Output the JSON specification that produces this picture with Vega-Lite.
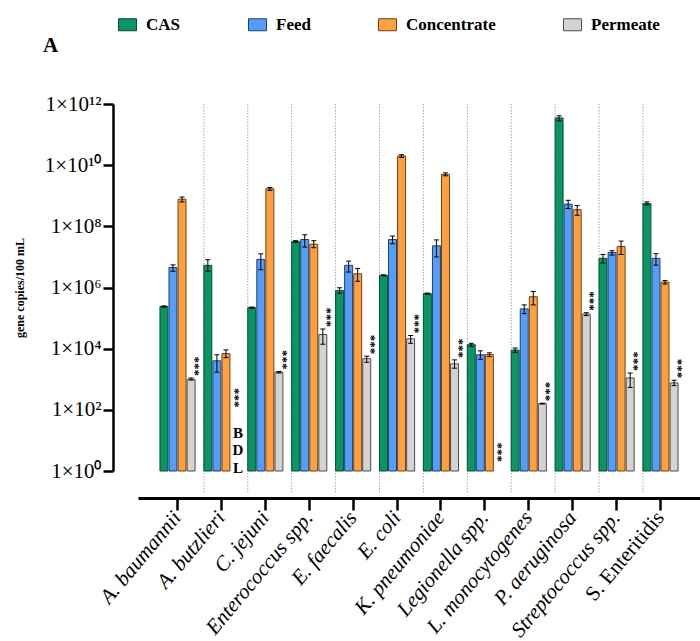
{
  "$schema": "https://vega.github.io/schema/vega-lite/v6.json",
  "autosize": {"type": "none"},
  "width": 562,
  "height": 367,
  "padding": {"left": 138, "top": 104, "right": 0, "bottom": 170},
  "background": "white",
  "title": {"text": "A", "anchor": "start", "frame": "group", "dx": -95, "offset": 0, "dy": 40, "font": "Liberation Serif", "fontSize": 21, "fontWeight": "bold", "color": "black"},
  "config": {
    "view": {"stroke": null},
    "axis": {"grid": false},
    "legend": {"orient": "none", "legendX": -19, "legendY": -88, "direction": "horizontal", "columns": 4, "padding": 0, "columnPadding": 65, "labelFont": "Liberation Serif", "labelFontWeight": "bold", "labelFontSize": 17, "labelColor": "black", "labelOffset": 10, "symbolType": "M-1.5,-1H1.5V1H-1.5Z", "symbolSize": 144, "symbolStrokeWidth": 1, "symbolOpacity": 1, "title": null}
  },
  "data": {"values": [
    {"species": "A. baumannii", "sample": "CAS", "value": 240000, "low": 230000, "high": 250000},
    {"species": "A. baumannii", "sample": "Feed", "value": 4500000, "low": 3400000, "high": 5500000},
    {"species": "A. baumannii", "sample": "Concentrate", "value": 770000000, "low": 630000000, "high": 910000000},
    {"species": "A. baumannii", "sample": "Permeate", "value": 1000, "low": 940, "high": 1100, "sig": "***"},
    {"species": "A. butzlieri", "sample": "CAS", "value": 5300000, "low": 3400000, "high": 8100000},
    {"species": "A. butzlieri", "sample": "Feed", "value": 4000, "low": 1700, "high": 6300},
    {"species": "A. butzlieri", "sample": "Concentrate", "value": 6900, "low": 5100, "high": 9100},
    {"species": "A. butzlieri", "sample": "Permeate", "value": null, "low": null, "high": null, "sig": "***", "note": "B\nD\nL"},
    {"species": "C. jejuni", "sample": "CAS", "value": 220000, "low": 210000, "high": 230000},
    {"species": "C. jejuni", "sample": "Feed", "value": 8300000, "low": 3800000, "high": 12600000},
    {"species": "C. jejuni", "sample": "Concentrate", "value": 1700000000, "low": 1500000000, "high": 1860000000},
    {"species": "C. jejuni", "sample": "Permeate", "value": 1700, "low": 1600, "high": 1800, "sig": "***"},
    {"species": "Enterococcus spp.", "sample": "CAS", "value": 32000000, "low": 30000000, "high": 34000000},
    {"species": "Enterococcus spp.", "sample": "Feed", "value": 37000000, "low": 21000000, "high": 53000000},
    {"species": "Enterococcus spp.", "sample": "Concentrate", "value": 26000000, "low": 20000000, "high": 34000000},
    {"species": "Enterococcus spp.", "sample": "Permeate", "value": 29000, "low": 14000, "high": 44000, "sig": "***"},
    {"species": "E. faecalis", "sample": "CAS", "value": 800000, "low": 650000, "high": 980000},
    {"species": "E. faecalis", "sample": "Feed", "value": 5300000, "low": 3200000, "high": 7300000},
    {"species": "E. faecalis", "sample": "Concentrate", "value": 2800000, "low": 1600000, "high": 4200000},
    {"species": "E. faecalis", "sample": "Permeate", "value": 4700, "low": 3600, "high": 5700, "sig": "***"},
    {"species": "E. coli", "sample": "CAS", "value": 2500000, "low": 2400000, "high": 2600000},
    {"species": "E. coli", "sample": "Feed", "value": 37000000, "low": 27000000, "high": 48000000},
    {"species": "E. coli", "sample": "Concentrate", "value": 20000000000, "low": 18000000000, "high": 22000000000},
    {"species": "E. coli", "sample": "Permeate", "value": 21000, "low": 15000, "high": 27000, "sig": "***"},
    {"species": "K. pneumoniae", "sample": "CAS", "value": 630000, "low": 600000, "high": 660000},
    {"species": "K. pneumoniae", "sample": "Feed", "value": 23000000, "low": 10000000, "high": 36000000},
    {"species": "K. pneumoniae", "sample": "Concentrate", "value": 5000000000, "low": 4500000000, "high": 5600000000},
    {"species": "K. pneumoniae", "sample": "Permeate", "value": 3200, "low": 2300, "high": 4300, "sig": "***"},
    {"species": "Legionella spp.", "sample": "CAS", "value": 13500, "low": 12000, "high": 15000},
    {"species": "Legionella spp.", "sample": "Feed", "value": 6300, "low": 4500, "high": 8500},
    {"species": "Legionella spp.", "sample": "Concentrate", "value": 6400, "low": 5500, "high": 7300},
    {"species": "Legionella spp.", "sample": "Permeate", "value": null, "low": null, "high": null, "sig": "***"},
    {"species": "L. monocytogenes", "sample": "CAS", "value": 9000, "low": 7600, "high": 10500},
    {"species": "L. monocytogenes", "sample": "Feed", "value": 200000, "low": 140000, "high": 270000},
    {"species": "L. monocytogenes", "sample": "Concentrate", "value": 500000, "low": 270000, "high": 740000},
    {"species": "L. monocytogenes", "sample": "Permeate", "value": 160, "low": 155, "high": 165, "sig": "***"},
    {"species": "P. aeruginosa", "sample": "CAS", "value": 350000000000, "low": 280000000000, "high": 410000000000},
    {"species": "P. aeruginosa", "sample": "Feed", "value": 530000000, "low": 380000000, "high": 710000000},
    {"species": "P. aeruginosa", "sample": "Concentrate", "value": 350000000, "low": 230000000, "high": 480000000},
    {"species": "P. aeruginosa", "sample": "Permeate", "value": 135000, "low": 120000, "high": 150000, "sig": "***"},
    {"species": "Streptococcus spp.", "sample": "CAS", "value": 9000000, "low": 6300000, "high": 12000000},
    {"species": "Streptococcus spp.", "sample": "Feed", "value": 14000000, "low": 11500000, "high": 16000000},
    {"species": "Streptococcus spp.", "sample": "Concentrate", "value": 22000000, "low": 12000000, "high": 33000000},
    {"species": "Streptococcus spp.", "sample": "Permeate", "value": 1100, "low": 540, "high": 1600, "sig": "***"},
    {"species": "S. Enteritidis", "sample": "CAS", "value": 560000000, "low": 500000000, "high": 630000000},
    {"species": "S. Enteritidis", "sample": "Feed", "value": 9000000, "low": 5400000, "high": 12700000},
    {"species": "S. Enteritidis", "sample": "Concentrate", "value": 1500000, "low": 1300000, "high": 1700000},
    {"species": "S. Enteritidis", "sample": "Permeate", "value": 760, "low": 620, "high": 930, "sig": "***"}
  ]},
  "encoding": {
    "x": {
      "field": "species", "type": "nominal",
      "sort": ["A. baumannii", "A. butzlieri", "C. jejuni", "Enterococcus spp.", "E. faecalis", "E. coli", "K. pneumoniae", "Legionella spp.", "L. monocytogenes", "P. aeruginosa", "Streptococcus spp.", "S. Enteritidis"],
      "scale": {"paddingInner": 0.2, "paddingOuter": 0.5},
      "axis": {"title": null, "offset": 27, "domainColor": "black", "domainWidth": 3, "tickColor": "black", "tickWidth": 2.5, "tickSize": 12, "labelAngle": -50, "labelAlign": "right", "labelBaseline": "middle", "labelFont": "Liberation Serif", "labelFontSize": 21, "labelColor": "black", "labelPadding": 4, "labelOverlap": false, "labelBound": false,
        "labelFontStyle": {"condition": {"test": "datum.value == 'S. Enteritidis'", "value": "normal"}, "value": "italic"}}
    },
    "xOffset": {"field": "sample", "type": "nominal", "sort": ["CAS", "Feed", "Concentrate", "Permeate"], "scale": {"paddingInner": 0.12, "paddingOuter": 0}}
  },
  "layer": [
    {
      "transform": [{"filter": "datum.sample == 'CAS' && datum.species != 'A. baumannii'"}],
      "mark": {"type": "rule", "color": "#a8a8a8", "strokeWidth": 1, "strokeDash": [1.5, 1.5]},
      "encoding": {
        "x": {"field": "species", "type": "nominal", "sort": ["A. baumannii", "A. butzlieri", "C. jejuni", "Enterococcus spp.", "E. faecalis", "E. coli", "K. pneumoniae", "Legionella spp.", "L. monocytogenes", "P. aeruginosa", "Streptococcus spp.", "S. Enteritidis"], "bandPosition": 0},
        "xOffset": null,
        "y": {"datum": 1000000000000},
        "y2": {"datum": 0.2}
      }
    },
    {
      "transform": [{"filter": "isValid(datum.value)"}],
      "mark": {"type": "bar", "strokeWidth": 1, "opacity": 1},
      "encoding": {
        "y": {"field": "value", "type": "quantitative",
          "scale": {"type": "log", "domain": [1, 1000000000000], "nice": false},
          "axis": {"title": "gene copies/100 mL", "offset": 25, "values": [1, 100, 10000, 1000000, 100000000, 10000000000, 1000000000000],
            "labelExpr": "'1×10' + (datum.value < 2 ? '⁰' : datum.value < 200 ? '²' : datum.value < 20000 ? '⁴' : datum.value < 2000000 ? '⁶' : datum.value < 200000000 ? '⁸' : datum.value < 20000000000 ? '¹⁰' : '¹²')",
            "domainColor": "black", "domainWidth": 2.5, "tickColor": "black", "tickWidth": 2.5, "tickSize": 10, "labelFont": "Liberation Serif", "labelFontSize": 21, "labelColor": "black", "labelPadding": 2,
            "titleFont": "Liberation Serif", "titleFontSize": 12, "titleFontWeight": "bold", "titleColor": "black", "titlePadding": 18}
        },
        "y2": {"datum": 1},
        "color": {"field": "sample", "type": "nominal", "sort": ["CAS", "Feed", "Concentrate", "Permeate"],
          "scale": {"domain": ["CAS", "Feed", "Concentrate", "Permeate"], "range": ["#0a9662", "#559ef8", "#fea03f", "#d3d3d3"]}},
        "stroke": {"field": "sample", "type": "nominal", "sort": ["CAS", "Feed", "Concentrate", "Permeate"],
          "scale": {"domain": ["CAS", "Feed", "Concentrate", "Permeate"], "range": ["#0b4d33", "#1d3f78", "#6e4212", "#4d4d4d"]}}
      }
    },
    {
      "transform": [{"filter": "isValid(datum.value)"}],
      "mark": {"type": "rule", "color": "black", "strokeWidth": 1},
      "encoding": {"y": {"field": "low", "type": "quantitative"}, "y2": {"field": "high"}}
    },
    {
      "transform": [{"filter": "isValid(datum.value)"}],
      "mark": {"type": "tick", "color": "black", "thickness": 1, "size": 5, "opacity": 1},
      "encoding": {"y": {"field": "low", "type": "quantitative"}}
    },
    {
      "transform": [{"filter": "isValid(datum.value)"}],
      "mark": {"type": "tick", "color": "black", "thickness": 1, "size": 5, "opacity": 1},
      "encoding": {"y": {"field": "high", "type": "quantitative"}}
    },
    {
      "transform": [{"filter": "datum.sample == 'Permeate' && isValid(datum.value)"}],
      "mark": {"type": "text", "angle": 90, "align": "right", "baseline": "middle", "dy": -4, "dx": -2, "font": "Liberation Serif", "fontSize": 13, "fontWeight": "bold", "color": "black"},
      "encoding": {"y": {"field": "high", "type": "quantitative"}, "text": {"field": "sig"}}
    },
    {
      "transform": [{"filter": "datum.sample == 'Permeate' && !isValid(datum.value) && isValid(datum.note)"}],
      "mark": {"type": "text", "angle": 90, "align": "right", "baseline": "middle", "dx": -1, "font": "Liberation Serif", "fontSize": 13, "fontWeight": "bold", "color": "black"},
      "encoding": {"y": {"datum": 110}, "text": {"field": "sig"}}
    },
    {
      "transform": [{"filter": "datum.sample == 'Permeate' && !isValid(datum.value) && !isValid(datum.note)"}],
      "mark": {"type": "text", "angle": 90, "align": "right", "baseline": "middle", "dx": -2, "font": "Liberation Serif", "fontSize": 13, "fontWeight": "bold", "color": "black"},
      "encoding": {"y": {"datum": 1.7}, "text": {"field": "sig"}}
    },
    {
      "transform": [{"filter": "datum.sample == 'Permeate' && isValid(datum.note)"}],
      "mark": {"type": "text", "align": "center", "baseline": "alphabetic", "lineBreak": "\n", "lineHeight": 17.5, "dx": 3, "font": "Liberation Serif", "fontSize": 15, "fontWeight": "bold", "color": "black"},
      "encoding": {"y": {"datum": 12}, "text": {"field": "note"}}
    }
  ]
}
